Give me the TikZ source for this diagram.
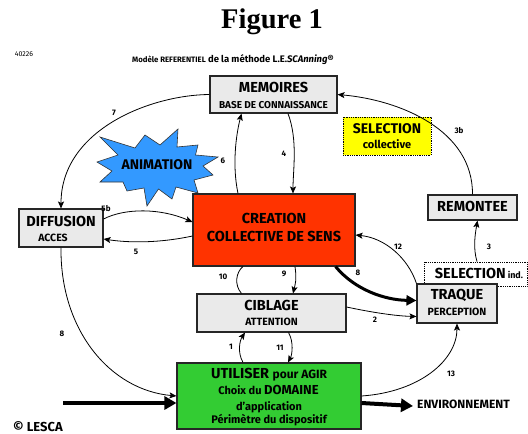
\documentclass[tikz,border=0pt]{standalone}
\usepackage{fontspec}
\setmainfont{Fira Sans}
\newfontfamily\titlefont{Liberation Serif}
\usetikzlibrary{arrows.meta,calc}
\newcommand\fsz[1]{\fontsize{#1}{#1}\selectfont}
\definecolor{gbox}{HTML}{EAEAEA}
\definecolor{creared}{HTML}{FF3300}
\definecolor{utilgreen}{HTML}{33CC33}
\definecolor{starblue}{HTML}{3399FF}
\definecolor{selyellow}{HTML}{FFFF00}
\begin{document}
\begin{tikzpicture}[x=1pt,y=-1pt,
  box/.style={draw=black!85, line width=1.1pt, inner sep=0, fill=#1},
  dbox/.style={draw=black, dash pattern=on 0.8pt off 1pt, line width=0.7pt, inner sep=0, fill=#1},
  t/.style={inner sep=0, text height=0.69em, text depth=0pt},
  lab/.style={t, font=\fsz{8}\bfseries},
  thin/.style={-{Stealth[length=7pt,width=6pt,inset=1.5pt]}, line width=0.8pt},
  thick8/.style={-{Triangle[length=10pt,width=10pt]}, line width=3pt},
  thickh/.style={-{Triangle[length=12pt,width=13pt]}, line width=4pt}]
\useasboundingbox (0,0) rectangle (528,434);

% header
\node[font=\titlefont\fsz{28.5}\bfseries, inner sep=0] (title) at (272,22) {Figure 1};
\node[t, font=\fsz{7}] (num) at (24,53) {40226};
\node[t, font=\fsz{9.5}\bfseries, anchor=west] (sub) at (132,59) {{\fsz{7.8}Modèle REFERENTIEL} de la méthode L.E.\textit{SCAnning}®};

% star
\draw[fill=starblue, draw=black!80, line width=0.6pt]
  (100,137) -- (135,148) -- (145,135) -- (160,145) -- (178,129) -- (177,147)
  -- (198,145) -- (195.5,155) -- (218,157) -- (203,166) -- (213,175) -- (194,180)
  -- (198,193) -- (176,187) -- (172,199) -- (158.5,189) -- (147,206) -- (144,188)
  -- (127,191) -- (123,182) -- (100,182) -- (112,171) -- (97,162) -- (118,155) -- cycle;
\node[t, font=\fsz{14}\bfseries] (anim) at (157,166) {ANIMATION};

% boxes
\node[box=gbox, minimum width=127, minimum height=37] (mem) at (273.5,94.5) {};
\node[t, font=\fsz{14.5}\bfseries] (memA) at (273.5,89.5) {MEMOIRES};
\node[t, font=\fsz{10}\bfseries] (memB) at (273.5,105) {BASE DE CONNAISSANCE};

\node[dbox=selyellow, minimum width=88, minimum height=38] (selc) at (387,136) {};
\node[t, font=\fsz{14}\bfseries] (selcA) at (387,130) {SELECTION};
\node[t, font=\fsz{11}\bfseries] (selcB) at (387,145) {collective};

\node[box=gbox, minimum width=84, minimum height=38] (diff) at (61,228) {};
\node[t, font=\fsz{14.5}\bfseries] (diffA) at (61,223) {DIFFUSION};
\node[t, font=\fsz{10.5}\bfseries] (diffB) at (53,238) {ACCES};

\node[box=creared, minimum width=162, minimum height=72] (crea) at (274,230) {};
\node[t, font=\fsz{14.5}\bfseries] (creaA) at (274,220) {CREATION};
\node[t, font=\fsz{14.5}\bfseries] (creaB) at (274,238) {COLLECTIVE DE SENS};

\node[box=gbox, minimum width=89, minimum height=25] (rem) at (472.5,207.5) {};
\node[t, font=\fsz{14.5}\bfseries] (remA) at (472.5,208) {REMONTEE};

\node[dbox=white, minimum width=103, minimum height=24] (seli) at (475.5,274) {};
\node[t, font=\fsz{14.5}\bfseries] (seliA) at (479,275) {SELECTION{\fsz{9} ind.}};

\node[box=gbox, minimum width=80, minimum height=39] (traq) at (457,303.5) {};
\node[t, font=\fsz{14.5}\bfseries] (traqA) at (457,296) {TRAQUE};
\node[t, font=\fsz{10.5}\bfseries] (traqB) at (457,312) {PERCEPTION};

\node[box=gbox, minimum width=149, minimum height=38] (cib) at (271.5,313) {};
\node[t, font=\fsz{14.5}\bfseries] (cibA) at (271.5,307) {CIBLAGE};
\node[t, font=\fsz{10.5}\bfseries] (cibB) at (271.5,322) {ATTENTION};

\node[box=utilgreen, minimum width=184, minimum height=66] (util) at (269,396) {};
\node[t, font=\fsz{14.5}\bfseries] (utilA) at (269,375) {UTILISER {\fsz{12}pour AGIR}};
\node[t, font=\fsz{13}\bfseries] (utilB) at (268.5,391) {{\fsz{11}Choix du }DOMAINE};
\node[t, font=\fsz{11}\bfseries] (utilC) at (269,407) {d’application};
\node[t, font=\fsz{11}\bfseries] (utilD) at (269,420) {Périmètre du dispositif};

\node[t, font=\fsz{12}\bfseries, anchor=west] (env) at (417,405) {ENVIRONNEMENT};
\node[t, font=\fsz{13}\bfseries] (lesca) at (38,428) {© LESCA};
\coordinate (src) at (63,403);

% connectors
\draw[thin] (mem.west) .. controls (150,95) and (61,130) .. (diff.north);
\draw[thin] (rem.north) .. controls (473,130) and (400,100) .. (mem.east);
\draw[thin] ([xshift=-36pt]crea.north) .. controls (232,165) and (236,135) .. ([xshift=-32pt]mem.south);
\draw[thin] ([xshift=14.5pt]mem.south) .. controls (298,140) and (293,170) .. ([xshift=19pt]crea.north);
\draw[thin] ([yshift=9pt]diff.east) .. controls (125,208) and (160,208) .. ([yshift=8pt]crea.west);
\draw[thin] ([yshift=-6pt]crea.west) .. controls (160,243) and (130,243) .. ([yshift=-11pt]diff.east);
\draw[thin] (traq.north west) .. controls (408,258) and (385,238) .. ([yshift=-5pt]crea.east);
\draw[thick8] ([xshift=-20pt]crea.south east) .. controls (355,290) and (385,300) .. ([yshift=3pt]traq.west);
\draw[thin] ([xshift=1.5pt]seli.north) .. controls (473,248) and (475,235) .. ([xshift=5pt]rem.south);
\draw[line width=0.8pt] ([xshift=-30pt]cib.north) .. controls (234,285) and (236,272) .. ([xshift=-31pt]crea.south);
\draw[thin] ([xshift=21pt]crea.south) .. controls (297,280) and (295,285) .. ([xshift=21.5pt]cib.north);
\draw[thin] ([yshift=6pt]cib.east) .. controls (370,312) and (395,316) .. ([yshift=-13pt]traq.west);
\draw[thin] ([xshift=-26pt]util.north) .. controls (237,352) and (240,340) .. ([xshift=-26.5pt]cib.south);
\draw[thin] ([xshift=17pt]cib.south) .. controls (294,342) and (292,355) .. ([xshift=19pt]util.north);
\draw[thin] (diff.south) .. controls (60,330) and (110,390) .. (util.west);
\draw[thin] (util.east) .. controls (420,392) and (457,360) .. (traq.south);
\draw[thickh] (src) -- ([yshift=-7pt]util.west);
\draw[thickh] ([yshift=-7pt]util.east) -- ([xshift=-4pt,yshift=-1pt]env.west);

% connector labels
\node[lab] (l7) at (114,112) {7};
\node[lab] (l3b) at (459,130) {3b};
\node[lab] (l6) at (223,160) {6};
\node[lab] (l4) at (284,153) {4};
\node[lab] (l5b) at (106,208) {5b};
\node[lab] (l5) at (136,251) {5};
\node[lab] (l12) at (398,246) {12};
\node[lab] (l3) at (489,246) {3};
\node[lab] (l8) at (358,272) {8};
\node[lab] (l10) at (223,276) {10};
\node[lab] (l9) at (284,273) {9};
\node[lab] (l2) at (375,319) {2};
\node[lab] (l1) at (231,346) {1};
\node[lab] (l11) at (280,347) {11};
\node[lab] (l8b) at (62,333) {8};
\node[lab] (l13) at (451,373) {13};
\end{tikzpicture}
\end{document}
